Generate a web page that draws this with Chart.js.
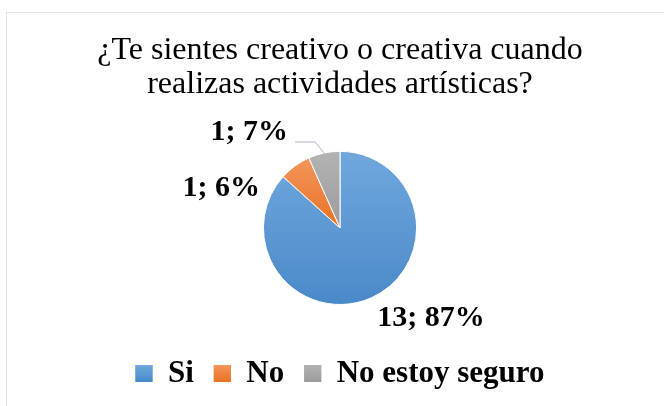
<!DOCTYPE html>
<html>
<head>
<meta charset="utf-8">
<script src="https://cdn.jsdelivr.net/npm/chart.js@4/dist/chart.umd.min.js"></script>
<style>
    html, body { margin: 0; padding: 0; background: #fff; }
    #wrap { position: relative; width: 664px; height: 406px; }
    #frame {
        position: absolute; left: 6px; top: 12px; right: 0; bottom: 0;
        border-top: 1px solid #dde2e8; border-left: 1px solid #dde2e8;
        pointer-events: none;
    }
</style>
</head>
<body>
<div id="wrap">
    <canvas id="pie" width="664" height="406"></canvas>
    <div id="frame"></div>
</div>
<script>
// Data
const categories = ['Si', 'No', 'No estoy seguro'];
const counts = [13, 1, 1];
const percentLabels = [87, 6, 7];

// Gradient stops (top, bottom) for every slice / legend box
const topColors = ['#70a8dd', '#f2965c', '#b3b3b3'];
const bottomColors = ['#4a89c9', '#ea7124', '#9b9b9b'];
const flatColors = ['#5b9bd5', '#ed7d31', '#a5a5a5'];

const serif = '"Liberation Serif", "Times New Roman", serif';

// Where each data label sits relative to the outer edge of its slice
const labelPlacement = [
    { dx: 6, dy: 20, align: 'left', leader: false },
    { dx: -35, dy: 22, align: 'right', leader: false },
    { dx: -36, dy: -21, align: 'right', leader: true }
];

const inRange = (a, start, end) => {
    const TAU = Math.PI * 2;
    while (a < start) a += TAU;
    return a <= end;
};

// Each slice gets its own vertical gradient over its bounding box, like Excel
const sliceGradients = {
    id: 'sliceGradients',
    beforeDatasetsDraw(chart) {
        const ctx = chart.ctx;
        chart.getDatasetMeta(0).data.forEach((arc, i) => {
            const p = arc.getProps(['x', 'y', 'startAngle', 'endAngle', 'outerRadius'], true);
            const r = p.outerRadius;
            const ys = [p.y, p.y + Math.sin(p.startAngle) * r, p.y + Math.sin(p.endAngle) * r];
            if (inRange(-Math.PI / 2, p.startAngle, p.endAngle)) ys.push(p.y - r);
            if (inRange(Math.PI / 2, p.startAngle, p.endAngle)) ys.push(p.y + r);
            const g = ctx.createLinearGradient(0, Math.min(...ys), 0, Math.max(...ys));
            g.addColorStop(0, topColors[i]);
            g.addColorStop(1, bottomColors[i]);
            arc.options.backgroundColor = g;
        });
    },
    afterDraw(chart) {
        // repaint legend boxes with the same gradients
        const ctx = chart.ctx;
        const legend = chart.legend;
        const box = legend.options.labels.boxHeight;
        legend.legendHitBoxes.forEach((hb, i) => {
            const y = hb.top + (hb.height - box) / 2;
            const g = ctx.createLinearGradient(0, y, 0, y + box);
            g.addColorStop(0, topColors[i]);
            g.addColorStop(1, bottomColors[i]);
            ctx.fillStyle = g;
            ctx.fillRect(hb.left, y, legend.options.labels.boxWidth, box);
        });
    }
};

const dataLabels = {
    id: 'dataLabels',
    afterDatasetsDraw(chart) {
        const ctx = chart.ctx;
        const meta = chart.getDatasetMeta(0);
        ctx.save();
        ctx.font = 'bold 30px ' + serif;
        ctx.fillStyle = '#000';
        ctx.textBaseline = 'middle';
        meta.data.forEach((arc, i) => {
            const p = arc.getProps(['x', 'y', 'startAngle', 'endAngle', 'outerRadius'], true);
            const mid = (p.startAngle + p.endAngle) / 2;
            const ex = p.x + Math.cos(mid) * p.outerRadius;
            const ey = p.y + Math.sin(mid) * p.outerRadius;
            const place = labelPlacement[i];
            if (place.leader) {
                ctx.strokeStyle = '#a9b6c6';
                ctx.lineWidth = 1;
                ctx.beginPath();
                ctx.moveTo(ex, ey);
                ctx.lineTo(ex - 9, ey - 11);
                ctx.lineTo(ex - 29, ey - 11);
                ctx.stroke();
            }
            ctx.textAlign = place.align;
            ctx.fillText(counts[i] + '; ' + percentLabels[i] + '%', ex + place.dx, ey + place.dy);
        });
        ctx.restore();
    }
};

new Chart(document.getElementById('pie'), {
    type: 'pie',
    data: {
        labels: categories,
        datasets: [{
            data: counts,
            backgroundColor: flatColors,
            borderColor: '#ffffff',
            borderWidth: 1
        }]
    },
    options: {
        responsive: false,
        animation: false,
        layout: { padding: { top: 34, left: 22, right: 6, bottom: 7 } },
        plugins: {
            tooltip: { enabled: false },
            title: {
                display: true,
                text: ['¿Te sientes creativo o creativa cuando', 'realizas actividades artísticas?'],
                color: '#000',
                font: { family: serif, size: 32, weight: 'normal', lineHeight: 1.06 },
                padding: { top: 0, bottom: 49 }
            },
            legend: {
                position: 'bottom',
                title: {
                    display: true,
                    text: '',
                    font: { size: 1, lineHeight: 1 },
                    padding: { top: 32, bottom: 0 }
                },
                labels: {
                    color: '#000',
                    font: { family: serif, size: 31, weight: 'bold' },
                    boxWidth: 17,
                    boxHeight: 17,
                    padding: 20,
                    generateLabels: (chart) => categories.map((c, i) => ({
                        text: c,
                        fillStyle: flatColors[i],
                        strokeStyle: flatColors[i],
                        fontColor: '#000',
                        lineWidth: 0,
                        hidden: false,
                        index: i
                    }))
                }
            }
        }
    },
    plugins: [sliceGradients, dataLabels]
});
</script>
</body>
</html>
